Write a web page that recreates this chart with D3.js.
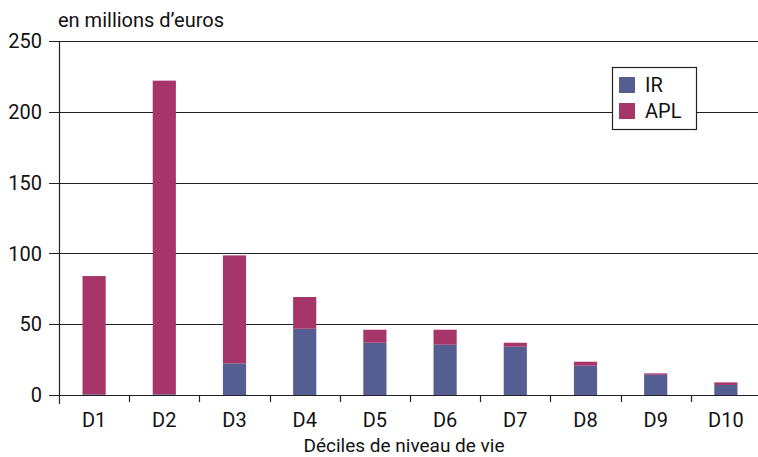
<!DOCTYPE html>
<html>
<head>
<meta charset="utf-8">
<script src="https://d3js.org/d3.v7.min.js"></script>
<style>
  body { margin: 0; background: #fff; }
  text { font-family: Roboto, "DejaVu Sans", sans-serif; fill: #111; }
</style>
</head>
<body>
<div id="chart"></div>
<script>
// deciles and values (millions d'euros)
var deciles = ["D1", "D2", "D3", "D4", "D5", "D6", "D7", "D8", "D9", "D10"];
var irValues = [0.5, 0.5, 22.3, 46.8, 36.9, 35.5, 34.1, 20.7, 14.3, 7.1];
var aplValues = [83.5, 221.5, 76.3, 22.4, 9.2, 10.6, 2.8, 2.8, 1.0, 1.8];
var seriesNames = ["IR", "APL"];
var seriesColors = ["#545e93", "#a6356a"];
var yTicks = [0, 50, 100, 150, 200, 250];

var width = 758, height = 457;
var margin = { top: 41, right: -3, bottom: 62, left: 59 };
var innerW = width - margin.left - margin.right,
    innerH = height - margin.top - margin.bottom;

var svg = d3.select("#chart").append("svg")
    .attr("width", width)
    .attr("height", height);

var g = svg.append("g")
    .attr("transform", "translate(" + margin.left + "," + margin.top + ")");

var x = d3.scaleBand()
    .domain(deciles)
    .range([0, innerW])
    .paddingInner(0.67)
    .paddingOuter(0.335);

var y = d3.scaleLinear()
    .domain([0, 250])
    .range([innerH, 0]);

// gridlines with outer tick
g.append("g")
    .selectAll("line")
    .data(yTicks)
    .enter()
    .append("line")
    .attr("x1", -10)
    .attr("x2", innerW)
    .attr("y1", function(d) { return Math.round(y(d)) + 0.5; })
    .attr("y2", function(d) { return Math.round(y(d)) + 0.5; })
    .attr("stroke", "#222")
    .attr("stroke-width", 1.2);

g.append("g")
    .selectAll("text")
    .data(yTicks)
    .enter()
    .append("text")
    .attr("x", -17)
    .attr("y", function(d) { return y(d); })
    .attr("dy", "0.36em")
    .attr("text-anchor", "end")
    .style("font-size", "20px")
    .text(function(d) { return d; });

// stacked data
var table = deciles.map(function(d, i) {
    return { decile: d, IR: irValues[i], APL: aplValues[i] };
});
var stack = d3.stack().keys(seriesNames)(table);

g.append("g")
    .selectAll("g")
    .data(stack)
    .enter()
    .append("g")
    .attr("fill", function(d, i) { return seriesColors[i]; })
    .selectAll("rect")
    .data(function(d) { return d; })
    .enter()
    .append("rect")
    .attr("x", function(d) { return x(d.data.decile); })
    .attr("width", x.bandwidth())
    .attr("y", function(d) { return y(d[1]); })
    .attr("height", function(d) { return y(d[0]) - y(d[1]); });

// x axis ticks at band boundaries
var step = x.step();
var bounds = d3.range(1, deciles.length);
g.append("g")
    .selectAll("line")
    .data(bounds)
    .enter()
    .append("line")
    .attr("x1", function(d) { return Math.round(x(deciles[0]) - x.paddingOuter() * step + d * step) + 0.5; })
    .attr("x2", function(d) { return Math.round(x(deciles[0]) - x.paddingOuter() * step + d * step) + 0.5; })
    .attr("y1", innerH)
    .attr("y2", innerH + 7)
    .attr("stroke", "#222")
    .attr("stroke-width", 1.2);

// y axis line
g.append("line")
    .attr("x1", 0.5).attr("x2", 0.5)
    .attr("y1", 0).attr("y2", innerH + 9)
    .attr("stroke", "#222")
    .attr("stroke-width", 1.2);

g.append("g")
    .selectAll("text")
    .data(deciles)
    .enter()
    .append("text")
    .attr("x", function(d) { return x(d) + x.bandwidth() / 2; })
    .attr("y", innerH + 32)
    .attr("text-anchor", "middle")
    .style("font-size", "20px")
    .text(function(d) { return d; });

svg.append("text")
    .attr("x", 404)
    .attr("y", 452)
    .attr("text-anchor", "middle")
    .style("font-size", "19px")
    .text("Déciles de niveau de vie");

svg.append("text")
    .attr("x", 58)
    .attr("y", 27)
    .style("font-size", "20px")
    .text("en millions d’euros");

// legend
var legend = svg.append("g").attr("transform", "translate(612,67)");
legend.append("rect")
    .attr("x", 0.5).attr("y", 0.5)
    .attr("width", 84).attr("height", 62)
    .attr("fill", "#fff")
    .attr("stroke", "#222")
    .attr("stroke-width", 1.2);
seriesNames.forEach(function(name, i) {
    legend.append("rect")
        .attr("x", 7).attr("y", 10 + i * 26)
        .attr("width", 16).attr("height", 16)
        .attr("fill", seriesColors[i]);
    legend.append("text")
        .attr("x", 33).attr("y", 18 + i * 26)
        .attr("dy", "0.36em")
        .style("font-size", "20px")
        .text(name);
});
</script>
</body>
</html>
